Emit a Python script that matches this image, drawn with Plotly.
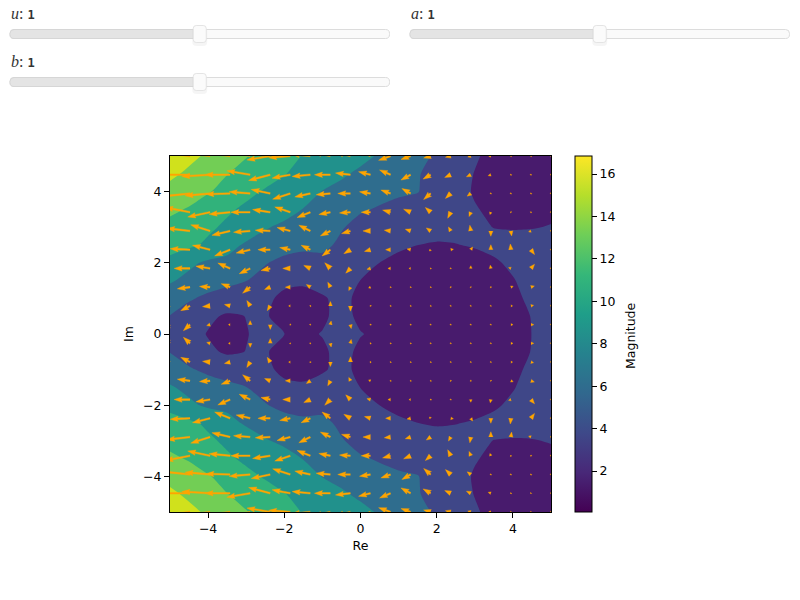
# plot.py - magnitude contour with quiver arrows and three parameter sliders
import math

import plotly.graph_objects as go

# Slider readouts
slider_names = ["u", "a", "b"]
slider_values = [1, 1, 1]
slider_min = 0
slider_max = 2

# Magnitude, x and y nodes
grid_x = [-5, -4.5, -4, -3.5, -3, -2.5, -2, -1.5, -1, -0.5, 0, 0.5, 1, 1.5, 2, 2.5, 3, 3.5, 4, 4.5, 5]
grid_y = [-5, -4.5, -4, -3.5, -3, -2.5, -2, -1.5, -1, -0.5, 0, 0.5, 1, 1.5, 2, 2.5, 3, 3.5, 4, 4.5, 5]
magnitude = [
    [16.4, 15.05, 14.08, 13.1, 12.15, 11.33, 10.4, 9.55, 9.0, 8.45, 7.7, 7.1, 6.3, 5.44, 4.6, 3.8, 2.7, 1.9, 1.6, 1.3, 2.2],
    [14.95, 14.0, 12.95, 12.1, 11.35, 10.55, 9.75, 9.0, 8.3, 7.5, 6.95, 6.2, 5.6, 5.0, 4.2, 3.35, 2.4, 1.9, 1.2, 1.2, 1.7],
    [13.7, 13.1, 12.2, 11.4, 10.2, 9.45, 8.85, 8.2, 7.2, 6.8, 6.2, 5.4, 5.1, 4.95, 3.9, 3.15, 2.3, 1.7, 1.1, 1.1, 1.6],
    [12.5, 11.85, 10.95, 10.0, 9.25, 8.7, 8.1, 7.2, 6.6, 5.6, 5.05, 4.7, 4.4, 3.9, 3.5, 3.1, 2.6, 2.1, 1.3, 1.2, 1.9],
    [11.4, 10.7, 10.05, 9.25, 8.3, 7.45, 6.8, 6.3, 5.65, 5.0, 4.3, 3.8, 3.4, 3.1, 3.2, 3.0, 2.8, 2.44, 2.3, 2.35, 2.6],
    [10.4, 10.1, 9.25, 7.9, 7.0, 6.3, 5.4, 5.2, 5.3, 4.5, 3.8, 3.2, 2.85, 2.48, 2.3, 2.42, 2.6, 3.0, 3.4, 3.5, 3.6],
    [9.1, 7.7, 6.9, 6.8, 5.7, 4.95, 4.5, 4.3, 4.3, 3.9, 3.2, 2.47, 1.9, 1.6, 1.5, 1.7, 1.95, 2.2, 2.85, 3.6, 3.8],
    [7.5, 6.7, 5.9, 5.4, 4.9, 4.4, 2.95, 2.75, 3.1, 3.4, 2.45, 2.0, 1.4, 1.1, 1.0, 1.1, 1.4, 1.8, 2.35, 3.2, 3.7],
    [6.0, 5.1, 4.4, 3.9, 3.6, 2.9, 2.0, 1.9, 2.3, 2.9, 2.1, 1.6, 1.0, 0.7, 0.6, 0.7, 1.0, 1.5, 2.0, 2.9, 3.5],
    [4.8, 3.9, 2.85, 2.2, 2.5, 2.7, 1.6, 1.1, 2.0, 3.4, 1.9, 1.3, 0.6, 0.3, 0.2, 0.3, 0.6, 1.0, 1.7, 2.55, 3.3],
    [4.2, 3.3, 2.35, 1.0, 2.4, 2.9, 2.5, 1.9, 2.6, 3.2, 2.6, 1.9, 0.9, 0.2, 0.07, 0.1, 0.4, 0.8, 1.5, 2.5, 3.3],
    [4.8, 3.9, 2.85, 2.2, 2.5, 2.7, 1.6, 1.1, 2.0, 3.4, 1.9, 1.3, 0.6, 0.3, 0.2, 0.3, 0.6, 1.0, 1.7, 2.55, 3.3],
    [6.0, 5.1, 4.4, 3.9, 3.6, 2.9, 2.0, 1.9, 2.3, 2.9, 2.1, 1.6, 1.0, 0.7, 0.6, 0.7, 1.0, 1.5, 2.0, 2.9, 3.5],
    [7.5, 6.7, 5.9, 5.4, 4.9, 4.4, 2.95, 2.75, 3.1, 3.4, 2.45, 2.0, 1.4, 1.1, 1.0, 1.1, 1.4, 1.8, 2.35, 3.2, 3.7],
    [9.1, 7.7, 6.9, 6.8, 5.7, 4.95, 4.5, 4.3, 4.3, 3.9, 3.2, 2.47, 1.9, 1.6, 1.5, 1.7, 1.95, 2.2, 2.85, 3.6, 3.8],
    [10.4, 10.1, 9.25, 7.9, 7.0, 6.3, 5.4, 5.2, 5.3, 4.5, 3.8, 3.2, 2.85, 2.48, 2.3, 2.42, 2.6, 3.0, 3.4, 3.5, 3.6],
    [11.4, 10.7, 10.05, 9.25, 8.3, 7.45, 6.8, 6.3, 5.65, 5.0, 4.3, 3.8, 3.4, 3.1, 3.2, 3.0, 2.8, 2.44, 2.3, 2.35, 2.6],
    [12.5, 11.85, 10.95, 10.0, 9.25, 8.7, 8.1, 7.2, 6.6, 5.6, 5.05, 4.7, 4.4, 3.9, 3.5, 3.1, 2.6, 2.1, 1.3, 1.2, 1.9],
    [13.7, 13.1, 12.2, 11.4, 10.2, 9.45, 8.85, 8.2, 7.2, 6.8, 6.2, 5.4, 5.1, 4.95, 3.9, 3.15, 2.3, 1.7, 1.1, 1.1, 1.6],
    [14.95, 14.0, 12.95, 12.1, 11.35, 10.55, 9.75, 9.0, 8.3, 7.5, 6.95, 6.2, 5.6, 5.0, 4.2, 3.35, 2.4, 1.9, 1.2, 1.2, 1.7],
    [16.4, 15.05, 14.08, 13.1, 12.15, 11.33, 10.4, 9.55, 9.0, 8.45, 7.7, 7.1, 6.3, 5.44, 4.6, 3.8, 2.7, 1.9, 1.6, 1.3, 2.2],
]
magnitude_min = 0.07
magnitude_max = 16.85
band_start = 2.47
band_end = 14.45
band_size = 2.396
band_colors = ["#481b6d", "#3f4788", "#2f6d8e", "#21918c", "#31b27b", "#72ce55", "#d0e11c"]

# Quiver components, rows run from Im=5 down to Im=-5
quiver_u = [
    [-16, -15.5, -15, -14, -13, -12.3, -11.4, -10, -9, -8, -7.5, -6.3, -5.1, -3.7, -2.8, -1.6, -1.1, -0.4, -0.3, 0.2],
    [-16.5, -15.8, -14.9, -13.2, -12.3, -11.4, -9.6, -9.6, -8.4, -7.9, -6.3, -5.8, -5.1, -4, -3.2, -2.3, -1.4, -0.4, 0.3, -0.2],
    [-15.5, -14.9, -13.2, -12.8, -11.1, -10, -9.3, -8.2, -7.5, -6.7, -5.8, -5.1, -4.6, -3.7, -2.8, -1.9, 0.5, 0.2, -0.3, 0.1],
    [-14, -13.2, -11.8, -11.1, -10.2, -9.3, -8.2, -7, -6.1, -5.8, -4.9, -4.2, -3.7, -2.8, -1.6, -0.9, -0.5, -0.2, -0.4, 0.1],
    [-13, -12.3, -10.2, -9.6, -8.8, -7.9, -7, -6.1, -5.3, -4.7, -4, -3.3, -2.8, -2.3, -1.2, -0.5, 0, 0.4, -1.2, 0.1],
    [-11.5, -10.5, -9.3, -8.2, -7.4, -6.5, -5.6, -4.9, -4.4, -3.5, -3.2, -2.6, -1.9, -0.7, 1.4, 1, 0, -0.3, 1.9, 0.1],
    [-9, -8.4, -7.5, -6.5, -5.8, -4.9, -4, -3.5, -3, -2.5, -1.9, -1.4, -0.9, -0.5, 0.5, 0, -0.3, -1.2, 1.9, 0.1],
    [-7.5, -6.7, -5.6, -4.7, -4, -3, -2.6, -2.1, -1.4, -0.9, -1, -0.5, -0.3, -0.2, 0, 0.2, -0.2, 1.2, 1.8, 0.1],
    [-5.5, -4.9, -4, -3, -1.8, -1.6, -0.9, -0.4, 0, 0, -0.4, -0.1, -0.1, -0.1, 0, 0.1, 0.5, 0.9, 1.4, 0.1],
    [-4, -3.5, -1.8, -0.9, 0, 0, 0.1, 0.1, 0.4, 0.4, -0.4, -0.1, -0.1, 0, 0, 0.2, 0.5, 1.1, 1.5, 0.1],
    [-4, -3.5, -1.8, -0.9, 0, 0, 0.1, 0.1, 0.4, 0.4, -0.4, -0.1, -0.1, 0, 0, 0.2, 0.5, 1.1, 1.5, 0.1],
    [-5.5, -4.9, -4, -3, -1.8, -1.6, -0.9, -0.4, 0, 0, -0.4, -0.1, -0.1, -0.1, 0, 0.1, 0.5, 0.9, 1.4, 0.1],
    [-7.5, -6.7, -5.6, -4.7, -4, -3, -2.6, -2.1, -1.4, -0.9, -1, -0.5, -0.3, -0.2, 0, 0.2, -0.2, 1.2, 1.8, 0.1],
    [-9, -8.4, -7.5, -6.5, -5.8, -4.9, -4, -3.5, -3, -2.5, -1.9, -1.4, -0.9, -0.5, 0.5, 0, -0.3, -1.2, 1.9, 0.1],
    [-11.5, -10.5, -9.3, -8.2, -7.4, -6.5, -5.6, -4.9, -4.4, -3.5, -3.2, -2.6, -1.9, -0.7, 1.4, 1, 0, -0.3, 1.9, 0.1],
    [-13, -12.3, -10.2, -9.6, -8.8, -7.9, -7, -6.1, -5.3, -4.7, -4, -3.3, -2.8, -2.3, -1.2, -0.5, 0, 0.4, -1.2, 0.1],
    [-14, -13.2, -11.8, -11.1, -10.2, -9.3, -8.2, -7, -6.1, -5.8, -4.9, -4.2, -3.7, -2.8, -1.6, -0.9, -0.5, -0.2, -0.4, 0.1],
    [-15.5, -14.9, -13.2, -12.8, -11.1, -10, -9.3, -8.2, -7.5, -6.7, -5.8, -5.1, -4.6, -3.7, -2.8, -1.9, 0.5, 0.2, -0.3, 0.1],
    [-16.5, -15.8, -14.9, -13.2, -12.3, -11.4, -9.6, -9.6, -8.4, -7.9, -6.3, -5.8, -5.1, -4, -3.2, -2.3, -1.4, -0.4, 0.3, -0.2],
    [-16, -15.5, -15, -14, -13, -12.3, -11.4, -10, -9, -8, -7.5, -6.3, -5.1, -3.7, -2.8, -1.6, -1.1, -0.4, -0.3, 0.2],
]
quiver_v = [
    [2, 2, 2, 2, 3, -2.1, -0.9, 1, 2, 2, 3, -2.3, -1.8, -1.1, -0.7, -0.5, -0.2, 0, 0, 0],
    [0, 0, -0.9, 0, 2.1, -3, -1.8, -0.9, 0, 0.9, 1.6, 2.5, -2.8, -2.3, -1.4, -1.1, -0.5, 0, 0.1, 0],
    [-1, -1.6, -1.2, -0.4, 0.9, 2.1, -3, -1.8, -0.7, 0, 0.9, 1.8, 2.6, -3.2, -2.6, -1.4, 0, 0, 0, 0],
    [2, 2.5, -2.5, -1.1, 0, 1.4, 2.8, -2.8, -1.2, -0.4, 0, 1.1, 1.6, 2.5, -3.2, -2.3, -1.2, -0.5, 0.3, 0],
    [1, 1.4, 3.2, -2.3, -0.7, 0.4, 1.8, 3, -2.6, -1.4, 0, 0.4, 0.9, 1.6, 2.1, 3, -2.8, -2.6, -0.5, 0],
    [0.8, 0.5, 2.3, -3.3, -1.8, 0, 1.1, 2.3, -3.3, -2.1, -0.9, 0, 0.4, -0.7, 0.2, 1.4, 2.6, 3, -2.6, 0],
    [0.3, 0, 1.2, 2.8, -2.8, -1.1, 0, 1.6, 3, -2.5, -0.5, 0, 0, 0.1, 0, 1.4, 1.7, 0.5, 2.2, 0],
    [-0.5, -0.9, 0.4, 1.8, -3.2, -1.2, 0, 1.4, 2.6, -1.8, -0.5, 0, 0, 0, 0.1, 0.4, 0.5, 0.5, 0.6, 0],
    [-2.5, -2.5, -0.4, 0.7, 2.8, -2.5, 0, 0.2, 2.3, -2.8, -0.4, 0, 0, 0, 0, 0, 0, 0, 0.3, 0],
    [-3, -3.2, -0.5, 0, 2.1, -2.5, -0.2, 0, 1.9, -2.1, -0.1, 0, 0, 0, 0, 0, 0, 0, 0, 0],
    [3, 3.2, 0.5, 0, -2.1, 2.5, 0.2, 0, -1.9, 2.1, 0.1, 0, 0, 0, 0, 0, 0, 0, 0, 0],
    [2.5, 2.5, 0.4, -0.7, -2.8, 2.5, 0, -0.2, -2.3, 2.8, 0.4, 0, 0, 0, 0, 0, 0, 0, -0.3, 0],
    [0.5, 0.9, -0.4, -1.8, 3.2, 1.2, 0, -1.4, -2.6, 1.8, 0.5, 0, 0, 0, -0.1, -0.4, -0.5, -0.5, -0.6, 0],
    [-0.3, 0, -1.2, -2.8, 2.8, 1.1, 0, -1.6, -3, 2.5, 0.5, 0, 0, -0.1, 0, -1.4, -1.7, -0.5, -2.2, 0],
    [-0.8, -0.5, -2.3, 3.3, 1.8, 0, -1.1, -2.3, 3.3, 2.1, 0.9, 0, -0.4, 0.7, -0.2, -1.4, -2.6, -3, 2.6, 0],
    [-1, -1.4, -3.2, 2.3, 0.7, -0.4, -1.8, -3, 2.6, 1.4, 0, -0.4, -0.9, -1.6, -2.1, -3, 2.8, 2.6, 0.5, 0],
    [-2, -2.5, 2.5, 1.1, 0, -1.4, -2.8, 2.8, 1.2, 0.4, 0, -1.1, -1.6, -2.5, 3.2, 2.3, 1.2, 0.5, -0.3, 0],
    [1, 1.6, 1.2, 0.4, -0.9, -2.1, 3, 1.8, 0.7, 0, -0.9, -1.8, -2.6, 3.2, 2.6, 1.4, 0, 0, 0, 0],
    [0, 0, 0.9, 0, -2.1, 3, 1.8, 0.9, 0, -0.9, -1.6, -2.5, 2.8, 2.3, 1.4, 1.1, 0.5, 0, -0.1, 0],
    [-2, -2, -2, -2, -3, 2.1, 0.9, -1, -2, -2, -3, 2.3, 1.8, 1.1, 0.7, 0.5, 0.2, 0, 0, 0],
]

# Figure geometry in pixels
WIDTH, HEIGHT = 800, 600
AX_LEFT, AX_RIGHT, AX_TOP, AX_BOTTOM = 170, 551, 156, 512
PX_PER_X = (AX_RIGHT - AX_LEFT) / 10
PX_PER_Y = (AX_BOTTOM - AX_TOP) / 10
LABEL_FONT = dict(family="DejaVu Sans", size=12.5, color="black")

# Arrow style in pixels
ARROW_SCALE = 1.9
SHAFT = 1.6
HEAD_LEN = 8.0
HEAD_AXIS = 7.2
HEAD_WIDTH = 5.4


def px(x):
    return x / WIDTH


def py(y):
    return 1 - y / HEIGHT


def arrow_outline(length):
    # quiver outline, tail at the origin, pointing along +x
    if length < SHAFT:
        r = SHAFT / 2
        return [(r * math.cos(k * math.pi / 3), r * math.sin(k * math.pi / 3)) for k in range(6)]
    if length < HEAD_LEN:
        w = HEAD_WIDTH * (length / HEAD_LEN) ** 0.6 / 2
        return [(0, w), (length, 0), (0, -w)]
    s, w = SHAFT / 2, HEAD_WIDTH / 2
    return [(0, s), (length - HEAD_AXIS, s), (length - HEAD_LEN, w), (length, 0),
            (length - HEAD_LEN, -w), (length - HEAD_AXIS, -s), (0, -s)]


arrow_x, arrow_y = [], []
n = len(quiver_u)
for j in range(n):
    tail_y = 5 - 10 * j / (n - 1)
    for i in range(n):
        tail_x = -5 + 10 * i / (n - 1)
        du, dv = quiver_u[j][i], quiver_v[j][i]
        length = ARROW_SCALE * math.hypot(du, dv)
        angle = math.atan2(dv, du)
        for ox, oy in arrow_outline(length):
            rx = ox * math.cos(angle) - oy * math.sin(angle)
            ry = ox * math.sin(angle) + oy * math.cos(angle)
            arrow_x.append(tail_x + rx / PX_PER_X)
            arrow_y.append(tail_y + ry / PX_PER_Y)
        arrow_x.append(None)
        arrow_y.append(None)

# Stepped colorscale so each band gets exactly its flat colour
band_scale = []
for k, c in enumerate(band_colors):
    band_scale.append([k / len(band_colors), c])
    band_scale.append([(k + 1) / len(band_colors), c])

fig = go.Figure()

fig.add_trace(go.Contour(
    x=grid_x, y=grid_y, z=magnitude,
    zmin=magnitude_min, zmax=magnitude_max, colorscale=band_scale,
    autocontour=False,
    contours=dict(coloring="fill", start=band_start, end=band_end, size=band_size, showlines=False),
    line=dict(width=0, smoothing=0.7),
    showscale=False, hoverinfo="skip",
))

fig.add_trace(go.Scatter(
    x=arrow_x, y=arrow_y, mode="lines", fill="toself", fillcolor="#ffa500",
    line=dict(width=0.4, color="#ffa500"), hoverinfo="skip", showlegend=False,
))

# Invisible trace only there to carry the continuous colorbar
fig.add_trace(go.Scatter(
    x=[-50, -50], y=[-50, -50], mode="markers", showlegend=False, hoverinfo="skip",
    marker=dict(
        color=[magnitude_min, magnitude_max], cmin=magnitude_min, cmax=magnitude_max,
        colorscale="Viridis", showscale=True, size=1,
        colorbar=dict(
            x=px(575), xanchor="left", xpad=0, y=py(AX_TOP), yanchor="top", ypad=0,
            len=AX_BOTTOM - AX_TOP, lenmode="pixels", thickness=17, thicknessmode="pixels",
            outlinecolor="black", outlinewidth=1, tick0=2, dtick=2,
            ticks="outside", ticklen=5, tickwidth=1, tickcolor="black",
            tickfont=LABEL_FONT,
        ),
    ),
))

fig.add_annotation(xref="paper", yref="paper", x=px(630), y=py(336), xanchor="center", yanchor="middle",
                   text="Magnitude", textangle=-90, showarrow=False, font=LABEL_FONT)

axis_style = dict(
    range=[-5, 5], tick0=-4, dtick=2, showgrid=False, zeroline=False,
    showline=True, mirror=True, linecolor="black", linewidth=1,
    ticks="outside", ticklen=5, tickwidth=1, tickcolor="black",
    tickfont=LABEL_FONT,
)
fig.update_xaxes(domain=[px(AX_LEFT), px(AX_RIGHT)], title=dict(text="Re", standoff=6, font=LABEL_FONT), **axis_style)
fig.update_yaxes(domain=[py(AX_BOTTOM), py(AX_TOP)], title=dict(text="Im", standoff=6, font=LABEL_FONT), **axis_style)


def rounded(x0, y0, x1, y1, r):
    # Rounded rectangle as an SVG path, pixel input, paper output
    pts = [("M", x0 + r, y0), ("L", x1 - r, y0), ("Q", x1, y0, x1, y0 + r), ("L", x1, y1 - r),
           ("Q", x1, y1, x1 - r, y1), ("L", x0 + r, y1), ("Q", x0, y1, x0, y1 - r),
           ("L", x0, y0 + r), ("Q", x0, y0, x0 + r, y0)]
    out = []
    for p in pts:
        nums = p[1:]
        coords = [f"{px(nums[k]):.5f},{py(nums[k + 1]):.5f}" for k in range(0, len(nums), 2)]
        out.append(p[0] + " ".join(coords))
    return " ".join(out) + " Z"


def add_panel(x0, y0, x1, y1, r, fill, line, opacity=1.0):
    fig.add_shape(type="path", xref="paper", yref="paper", path=rounded(x0, y0, x1, y1, r),
                  fillcolor=fill, line=dict(color=line, width=1 if line != fill else 0), opacity=opacity)


# Slider widgets: (left edge, label row, rail centre row)
slider_slots = [(10, 14, 34), (410, 14, 34), (10, 62, 82)]
RAIL_W = 379.5
for name, value, (left, label_y, rail_y) in zip(slider_names, slider_values, slider_slots):
    frac = (value - slider_min) / (slider_max - slider_min)
    knob = left + frac * RAIL_W
    add_panel(left, rail_y - 4.5, left + RAIL_W, rail_y + 4.5, 4, "#fafafa", "#dcdcdc")
    add_panel(left, rail_y - 4.5, knob, rail_y + 4.5, 4, "#e4e4e4", "#d6d6d6")
    add_panel(knob - 7.5, rail_y - 7, knob + 7.5, rail_y + 12, 4, "#000000", "#000000", 0.04)
    add_panel(knob - 6.5, rail_y - 8.5, knob + 6.5, rail_y + 8.5, 3, "#fbfbfb", "#e4e4e4")
    fig.add_annotation(
        xref="paper", yref="paper", x=px(left), y=py(label_y), xanchor="left", yanchor="middle",
        showarrow=False, xshift=-1,
        text=f"<i>{name}</i>: <span style=\"font-family:'DejaVu Sans Mono';font-weight:bold;font-size:12px\">{value}</span>",
        font=dict(family="Liberation Serif", size=16, color="#333333"),
    )

fig.update_layout(
    width=WIDTH, height=HEIGHT, margin=dict(l=0, r=0, t=0, b=0),
    paper_bgcolor="white", plot_bgcolor="white", showlegend=False,
)

fig.write_html("out.html", config=dict(displayModeBar=False), post_script="document.body.style.margin='0';")
